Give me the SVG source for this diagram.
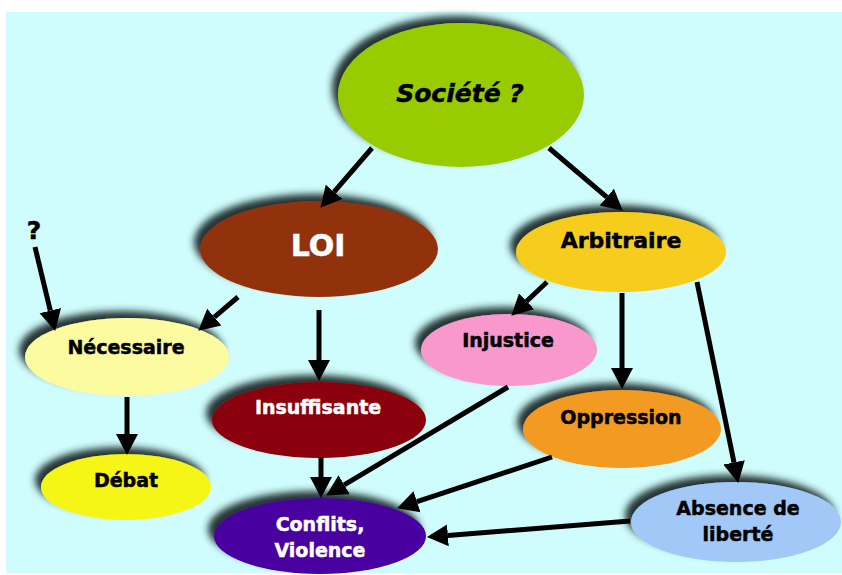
<svg xmlns="http://www.w3.org/2000/svg" width="842" height="575" viewBox="0 0 842 575">
  <defs>
    <filter id="shadow" x="-20%" y="-30%" width="140%" height="160%">
      <feGaussianBlur in="SourceAlpha" stdDeviation="3.5" result="blur"/>
      <feOffset in="blur" dx="-6" dy="-7" result="off"/>
      <feFlood flood-color="#1c2a2a" flood-opacity="0.95"/>
      <feComposite in2="off" operator="in" result="shade"/>
      <feMerge>
        <feMergeNode in="shade"/>
        <feMergeNode in="SourceGraphic"/>
      </feMerge>
    </filter>
    <marker id="head" viewBox="0 -12 21 24" refX="0" refY="0" markerUnits="userSpaceOnUse" markerWidth="21" markerHeight="24" orient="auto">
      <path d="M0,-11 L21,0 L0,11 z" fill="#000"/>
    </marker>
  </defs>
  <style>
    .node ellipse { filter: url(#shadow); }
    .lbl { font-family: "DejaVu Sans", Verdana, sans-serif; font-weight: bold; font-size: 19px; text-anchor: middle; stroke-width: 0.5; }
    .dark { fill: #000; stroke: #000; }
    .light { fill: #fff; stroke: #fff; }
    .edge { stroke: #000; stroke-width: 5; fill: none; marker-end: url(#head); }
  </style>

  <rect x="6" y="12" width="836" height="561" fill="#cffcfc"/>

  <g id="nodes">
    <g id="societe" class="node">
      <ellipse cx="461" cy="95" rx="123" ry="72" fill="#99cc00"/>
      <text class="lbl dark" x="460" y="102" font-style="italic" style="font-size:25px">Société ?</text>
    </g>
    <g id="loi" class="node">
      <ellipse cx="319" cy="249" rx="119" ry="48" fill="#923310"/>
      <text class="lbl light" x="318" y="256" style="font-size:30px">LOI</text>
    </g>
    <g id="arbitraire" class="node">
      <ellipse cx="621" cy="252" rx="105" ry="40" fill="#f6cd1b"/>
      <text class="lbl dark" x="621" y="248" style="font-size:22px">Arbitraire</text>
    </g>
    <g id="necessaire" class="node">
      <ellipse cx="127" cy="357" rx="102" ry="39" fill="#fdfb9f"/>
      <text class="lbl dark" x="126" y="354">Nécessaire</text>
    </g>
    <g id="injustice" class="node">
      <ellipse cx="509" cy="350" rx="88" ry="36" fill="#f898cc"/>
      <text class="lbl dark" x="508" y="347">Injustice</text>
    </g>
    <g id="insuffisante" class="node">
      <ellipse cx="319" cy="420" rx="107" ry="38" fill="#8b0008"/>
      <text class="lbl light" x="318" y="414">Insuffisante</text>
    </g>
    <g id="oppression" class="node">
      <ellipse cx="622" cy="429" rx="99" ry="39" fill="#f39a20"/>
      <text class="lbl dark" x="621" y="424">Oppression</text>
    </g>
    <g id="debat" class="node">
      <ellipse cx="126" cy="487" rx="85" ry="33" fill="#f6f613"/>
      <text class="lbl dark" x="126" y="487">Débat</text>
    </g>
    <g id="conflits" class="node">
      <ellipse cx="320" cy="536" rx="106" ry="38" fill="#4a00a0"/>
      <text class="lbl light" x="320" y="531">Conflits,</text>
      <text class="lbl light" x="320" y="557">Violence</text>
    </g>
    <g id="absence" class="node">
      <ellipse cx="736" cy="522" rx="105" ry="40" fill="#a2c8f8"/>
      <text class="lbl dark" x="738" y="515">Absence de</text>
      <text class="lbl dark" x="738" y="541">liberté</text>
    </g>
    <g id="question">
      <text class="lbl dark" x="34" y="239" style="font-size:25px">?</text>
    </g>
  </g>

  <g id="connectors">
    <line class="edge" x1="372" y1="148" x2="334.1" y2="191.9"/>
    <line class="edge" x1="549" y1="148" x2="606.8" y2="197.1"/>
    <line class="edge" x1="238" y1="297" x2="214.3" y2="317.1"/>
    <line class="edge" x1="35" y1="247" x2="50.3" y2="310.6"/>
    <line class="edge" x1="319" y1="310" x2="319" y2="360"/>
    <line class="edge" x1="127" y1="397" x2="127" y2="434"/>
    <line class="edge" x1="321" y1="457" x2="321" y2="477"/>
    <line class="edge" x1="508" y1="387" x2="344.2" y2="484.8"/>
    <line class="edge" x1="552" y1="457" x2="417" y2="501.7"/>
    <line class="edge" x1="630" y1="521" x2="447.9" y2="535.4"/>
    <line class="edge" x1="547" y1="282" x2="526.6" y2="301.3"/>
    <line class="edge" x1="622" y1="293" x2="622" y2="368"/>
    <line class="edge" x1="697" y1="282" x2="734" y2="462.4"/>
  </g>
</svg>
